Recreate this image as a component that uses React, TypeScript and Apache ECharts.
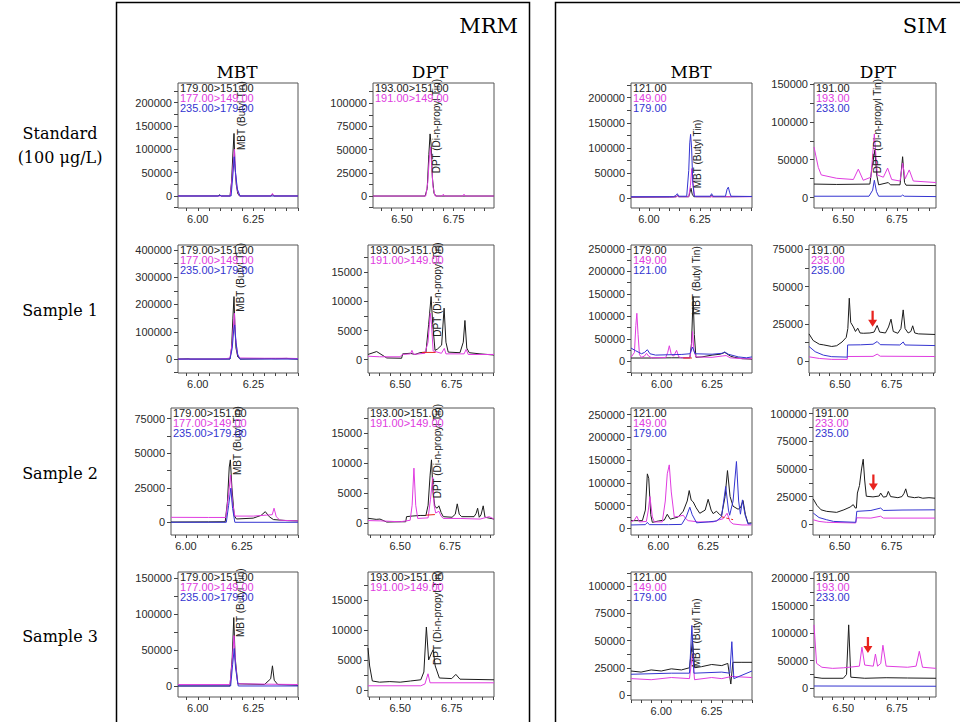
import React, { useEffect, useRef } from 'react';
import * as echarts from 'echarts';

type Pt = [number, number];

// ---------- colours ----------
const BLACK = '#1c1c1c';
const MAG = '#e03ce0';
const BLUE = '#3434d0';
const RED = '#e8231e';

// ---------- tick labels ----------
const MBT_X_LABELS = [6.0, 6.25];
const DPT_X_LABELS = [6.5, 6.75];
const Y_0_200K = [0, 50000, 100000, 150000, 200000];
const Y_0_100K_25 = [0, 25000, 50000, 75000, 100000];
const Y_0_150K = [0, 50000, 100000, 150000];
const Y_0_400K = [0, 100000, 200000, 300000, 400000];
const Y_0_15K = [0, 5000, 10000, 15000];
const Y_0_250K = [0, 50000, 100000, 150000, 200000, 250000];
const Y_0_75K = [0, 25000, 50000, 75000];

// ---------- legends ----------
const MRM_MBT_LEGEND = ['179.00>151.00', '177.00>149.00', '235.00>179.00'];
const MRM_DPT_LEGEND = ['193.00>151.00', '191.00>149.00'];
const SIM_MBT_LEGEND_A = ['121.00', '149.00', '179.00'];
const SIM_MBT_LEGEND_B = ['179.00', '149.00', '121.00'];
const SIM_DPT_LEGEND_A = ['191.00', '193.00', '233.00'];
const SIM_DPT_LEGEND_B = ['191.00', '233.00', '235.00'];

// ---------- Standard, MRM MBT ----------
const std_mrm_mbt_k: Pt[] = [[5.911,0],[6.09,0],[6.098,2500],[6.106,0],[6.145,0],[6.152,30000],[6.158,90000],[6.163,134000],[6.167,70000],[6.173,25000],[6.18,5000],[6.188,0],[6.33,0],[6.336,3000],[6.342,0],[6.451,0]];
const std_mrm_mbt_m: Pt[] = [[5.911,0],[6.146,0],[6.155,40000],[6.162,85000],[6.165,100000],[6.17,45000],[6.178,12000],[6.188,0],[6.328,0],[6.336,5500],[6.344,0],[6.451,0]];
const std_mrm_mbt_b: Pt[] = [[5.911,0],[6.095,0],[6.1,2000],[6.105,0],[6.15,0],[6.158,45000],[6.164,84000],[6.17,50000],[6.178,15000],[6.19,0],[6.451,0]];
// ---------- Standard, MRM DPT ----------
const std_mrm_dpt_k: Pt[] = [[6.36,0],[6.612,0],[6.622,8000],[6.63,45000],[6.636,67000],[6.641,55000],[6.647,20000],[6.655,3000],[6.665,0],[6.945,0]];
const std_mrm_dpt_m: Pt[] = [[6.36,0],[6.615,0],[6.625,15000],[6.632,40000],[6.638,53000],[6.643,35000],[6.65,10000],[6.66,0],[6.695,0],[6.7,2000],[6.706,0],[6.795,0],[6.8,2000],[6.806,0],[6.945,0]];
// ---------- Standard, SIM MBT ----------
const std_sim_mbt_k: Pt[] = [[5.912,2000],[6.1,2500],[6.135,3000],[6.14,5500],[6.146,3000],[6.195,3000],[6.201,12000],[6.206,20000],[6.212,8000],[6.22,3000],[6.302,3000],[6.307,5000],[6.312,3000],[6.4,3000],[6.505,3500]];
const std_sim_mbt_m: Pt[] = [[5.912,2500],[6.13,2500],[6.138,5000],[6.145,3000],[6.195,3000],[6.203,25000],[6.21,59000],[6.216,30000],[6.223,5000],[6.23,3000],[6.505,3000]];
const std_sim_mbt_b: Pt[] = [[5.912,3000],[6.12,3000],[6.132,5500],[6.139,9000],[6.146,4000],[6.185,4000],[6.195,55000],[6.2,110000],[6.204,127000],[6.209,100000],[6.215,30000],[6.222,4000],[6.3,4000],[6.307,9000],[6.314,4000],[6.375,4000],[6.383,18000],[6.389,22000],[6.395,12000],[6.402,4000],[6.505,3500]];
// ---------- Standard, SIM DPT ----------
const std_sim_dpt_k: Pt[] = [[6.363,18000],[6.469,17500],[6.624,18000],[6.634,40000],[6.648,63000],[6.656,30000],[6.665,17000],[6.71,20000],[6.72,17000],[6.765,17000],[6.777,54000],[6.786,20000],[6.793,16500],[6.933,16000]];
const std_sim_dpt_m: Pt[] = [[6.363,66700],[6.383,40000],[6.397,30000],[6.469,25600],[6.547,24000],[6.57,37600],[6.593,23000],[6.629,27000],[6.645,84000],[6.659,30000],[6.687,27000],[6.707,39000],[6.726,24000],[6.765,22000],[6.777,45500],[6.789,25000],[6.808,36600],[6.827,22000],[6.933,20000]];
const std_sim_dpt_b: Pt[] = [[6.363,2000],[6.62,2000],[6.637,10000],[6.645,23000],[6.655,8000],[6.665,2000],[6.77,2000],[6.777,3500],[6.785,2000],[6.933,1500]];

// ---------- Sample 1, MRM MBT ----------
const s1_mrm_mbt_k: Pt[] = [[5.911,0],[5.96,1000],[5.965,0],[6.1,0],[6.145,500],[6.152,40000],[6.158,150000],[6.163,229000],[6.167,120000],[6.172,40000],[6.18,8000],[6.19,0],[6.3,1500],[6.33,2000],[6.35,1500],[6.4,2500],[6.42,1000],[6.451,0]];
const s1_mrm_mbt_m: Pt[] = [[5.911,0],[6.1,0],[6.13,2000],[6.145,4000],[6.155,60000],[6.162,140000],[6.165,168000],[6.17,80000],[6.178,20000],[6.188,4000],[6.3,3000],[6.4,3000],[6.451,2000]];
const s1_mrm_mbt_b: Pt[] = [[5.911,0],[6.145,0],[6.155,40000],[6.162,110000],[6.166,125000],[6.172,60000],[6.18,15000],[6.19,0],[6.451,0]];
// ---------- Sample 1, MRM DPT ----------
const s1_mrm_dpt_k: Pt[] = [[6.344,900],[6.386,1400],[6.435,300],[6.507,250],[6.512,1000],[6.548,1100],[6.572,900],[6.596,1200],[6.625,1300],[6.638,6000],[6.65,10830],[6.658,6000],[6.669,1600],[6.68,1800],[6.701,2500],[6.713,8840],[6.722,3000],[6.733,1300],[6.79,1200],[6.806,3000],[6.814,6730],[6.823,2000],[6.835,1200],[6.887,1000],[6.955,800]];
const s1_mrm_dpt_m: Pt[] = [[6.344,600],[6.4,500],[6.5,500],[6.51,900],[6.55,1000],[6.557,1600],[6.565,900],[6.62,1100],[6.635,3000],[6.646,7980],[6.652,6000],[6.66,1500],[6.7,1100],[6.714,1940],[6.722,1000],[6.81,1000],[6.82,1770],[6.83,900],[6.955,900]];
const s1_mrm_dpt_red: Pt[] = [[6.605,1250],[6.672,1250]];
// ---------- Sample 1, SIM MBT ----------
const s1_sim_mbt_k: Pt[] = [[5.848,7500],[5.95,7500],[6.05,8000],[6.14,8000],[6.148,40000],[6.156,144000],[6.162,60000],[6.17,9000],[6.2,10000],[6.25,14000],[6.29,16000],[6.313,20000],[6.34,12000],[6.36,9000],[6.4,6000],[6.448,5000]];
const s1_sim_mbt_m: Pt[] = [[5.848,9000],[5.865,20000],[5.872,80000],[5.877,107000],[5.883,60000],[5.89,15000],[5.9,9000],[5.915,12000],[5.925,18000],[5.935,12000],[5.95,8000],[6.02,8500],[6.03,20000],[6.038,34800],[6.048,15000],[6.06,12000],[6.074,24500],[6.085,10000],[6.1,8000],[6.14,8500],[6.148,30000],[6.153,66500],[6.16,25000],[6.17,10000],[6.25,9000],[6.3,12000],[6.32,13000],[6.34,8000],[6.4,6000],[6.448,6000]];
const s1_sim_mbt_b: Pt[] = [[5.848,29700],[5.87,24000],[5.9,17000],[5.915,20000],[5.929,26000],[5.942,17000],[5.97,14000],[6.05,15000],[6.1,15500],[6.14,17000],[6.153,32000],[6.165,17000],[6.25,16000],[6.3,18000],[6.313,21000],[6.33,16000],[6.38,10000],[6.42,8000],[6.448,10000]];
const s1_sim_mbt_red: Pt[] = [[6.107,7500],[6.15,7500]];
// ---------- Sample 1, SIM DPT ----------
const s1_sim_dpt_k: Pt[] = [[6.35,18400],[6.37,14000],[6.4,11500],[6.419,11100],[6.46,10000],[6.484,10500],[6.51,13000],[6.53,16000],[6.538,22000],[6.545,42200],[6.552,26000],[6.565,23000],[6.575,20000],[6.586,22200],[6.597,19000],[6.613,18800],[6.645,19000],[6.665,19600],[6.68,24000],[6.692,19600],[6.72,19000],[6.735,23000],[6.747,28200],[6.758,20000],[6.78,18800],[6.795,22000],[6.806,34400],[6.815,22000],[6.83,19000],[6.843,20000],[6.852,23800],[6.862,19000],[6.88,18400],[6.96,18000]];
const s1_sim_dpt_m: Pt[] = [[6.35,3100],[6.4,2000],[6.46,1400],[6.535,1400],[6.537,3300],[6.66,3400],[6.68,4900],[6.695,3500],[6.96,3300]];
const s1_sim_dpt_b: Pt[] = [[6.35,10000],[6.38,6500],[6.42,4200],[6.46,3200],[6.535,2900],[6.537,11000],[6.6,11100],[6.66,11500],[6.68,13300],[6.695,11200],[6.79,11000],[6.806,13000],[6.815,11000],[6.96,10600]];

// ---------- Sample 2, MRM MBT ----------
const s2_mrm_mbt_k: Pt[] = [[5.933,200],[6.1,300],[6.175,400],[6.185,15000],[6.193,40000],[6.198,45200],[6.205,25000],[6.215,5000],[6.225,2400],[6.3,3000],[6.335,5000],[6.354,7700],[6.372,4000],[6.39,2000],[6.45,1200],[6.5,1000]];
const s2_mrm_mbt_m: Pt[] = [[5.933,3600],[6.1,3500],[6.178,3500],[6.19,20000],[6.199,34300],[6.207,15000],[6.218,4500],[6.3,4500],[6.36,5200],[6.385,5500],[6.393,10200],[6.403,4000],[6.42,1500],[6.5,1000]];
const s2_mrm_mbt_b: Pt[] = [[5.933,0],[6.18,0],[6.19,12000],[6.2,24700],[6.208,10000],[6.218,0],[6.5,0]];
// ---------- Sample 2, MRM DPT ----------
const s2_mrm_dpt_k: Pt[] = [[6.339,830],[6.38,650],[6.399,700],[6.433,200],[6.5,250],[6.528,250],[6.532,1100],[6.56,1200],[6.6,1300],[6.629,1300],[6.64,3000],[6.65,8000],[6.657,10550],[6.665,5000],[6.674,2800],[6.685,2500],[6.694,2900],[6.705,1800],[6.716,1100],[6.76,1000],[6.776,1500],[6.786,3230],[6.796,1500],[6.808,1100],[6.87,1100],[6.88,1600],[6.888,2500],[6.896,1000],[6.905,1400],[6.916,2900],[6.925,1000],[6.97,700]];
const s2_mrm_dpt_m: Pt[] = [[6.339,450],[6.4,400],[6.5,250],[6.55,500],[6.56,3000],[6.569,9170],[6.578,3000],[6.588,800],[6.64,900],[6.652,4000],[6.663,7620],[6.67,3000],[6.678,1700],[6.694,2000],[6.705,1200],[6.716,800],[6.8,800],[6.9,700],[6.946,1100],[6.97,700]];
const s2_mrm_dpt_red: Pt[] = [[6.629,1350],[6.674,1450]];
// ---------- Sample 2, SIM MBT ----------
const s2_sim_mbt_k: Pt[] = [[5.863,16800],[5.92,16800],[5.935,40000],[5.945,119800],[5.952,110000],[5.962,30000],[5.97,13000],[6.0,16000],[6.03,18000],[6.045,30800],[6.06,20000],[6.1,25000],[6.125,37500],[6.145,60000],[6.155,83000],[6.165,62000],[6.175,58000],[6.19,45000],[6.208,33000],[6.235,40000],[6.25,63800],[6.265,40000],[6.275,32300],[6.292,37500],[6.308,30000],[6.317,27900],[6.335,70000],[6.347,127000],[6.36,70000],[6.375,48500],[6.4,42000],[6.412,45000],[6.425,61000],[6.437,30000],[6.45,11000],[6.467,12000]];
const s2_sim_mbt_m: Pt[] = [[5.863,14000],[5.88,18000],[5.892,26500],[5.905,14000],[5.94,15000],[5.95,40000],[5.958,69800],[5.97,25000],[5.98,14000],[6.02,14000],[6.035,60000],[6.045,120000],[6.055,139600],[6.065,80000],[6.08,25000],[6.1,26000],[6.125,28700],[6.14,20000],[6.15,16800],[6.2,14000],[6.275,14000],[6.3,18000],[6.325,21000],[6.345,33100],[6.36,15000],[6.375,9500],[6.42,7300],[6.467,7300]];
const s2_sim_mbt_b: Pt[] = [[5.863,7300],[5.935,8000],[5.945,13000],[5.955,8000],[6.05,8000],[6.117,8500],[6.14,25000],[6.158,46300],[6.17,30000],[6.192,12000],[6.25,14000],[6.292,16000],[6.317,25000],[6.338,91800],[6.352,40000],[6.358,28700],[6.375,60000],[6.392,147000],[6.403,60000],[6.412,31000],[6.422,62500],[6.435,30000],[6.45,9500],[6.467,10000]];
const s2_sim_mbt_red: Pt[] = [[6.317,25500],[6.345,22000],[6.375,19000]];
// ---------- Sample 2, SIM DPT ----------
const s2_sim_dpt_k: Pt[] = [[6.372,22900],[6.39,17000],[6.41,13000],[6.437,11600],[6.485,10700],[6.52,13000],[6.55,15500],[6.565,17700],[6.575,14600],[6.58,14600],[6.585,28200],[6.595,35000],[6.605,50000],[6.613,58800],[6.62,40000],[6.628,25300],[6.66,24700],[6.69,25500],[6.697,28200],[6.71,24500],[6.725,25000],[6.734,29700],[6.745,25000],[6.78,24000],[6.8,25000],[6.81,28000],[6.818,32000],[6.828,25000],[6.86,24000],[6.88,24500],[6.9,23500],[6.93,24000],[6.959,23500]];
const s2_sim_dpt_m: Pt[] = [[6.372,4000],[6.4,2500],[6.437,1700],[6.577,1100],[6.582,5800],[6.65,5500],[6.697,7200],[6.71,5500],[6.959,5500]];
const s2_sim_dpt_b: Pt[] = [[6.372,10100],[6.4,6000],[6.437,4000],[6.47,2500],[6.577,1700],[6.582,11600],[6.65,12400],[6.697,14600],[6.71,12400],[6.8,12800],[6.959,13000]];

// ---------- Sample 3, MRM MBT ----------
const s3_mrm_mbt_k: Pt[] = [[5.911,0],[6.145,0],[6.155,40000],[6.162,95000],[6.168,40000],[6.18,3000],[6.3,2000],[6.328,10000],[6.336,28000],[6.344,8000],[6.36,2000],[6.451,1000]];
const s3_mrm_mbt_m: Pt[] = [[5.911,2000],[6.145,2000],[6.155,35000],[6.163,70000],[6.17,30000],[6.18,3000],[6.451,2000]];
const s3_mrm_mbt_b: Pt[] = [[5.911,0],[6.148,0],[6.157,30000],[6.164,52000],[6.17,25000],[6.182,0],[6.451,0]];
// ---------- Sample 3, MRM DPT ----------
const s3_mrm_dpt_k: Pt[] = [[6.344,7000],[6.352,4000],[6.365,1500],[6.4,1300],[6.45,1400],[6.5,1300],[6.55,1500],[6.6,1700],[6.615,3000],[6.627,10500],[6.638,5000],[6.65,6000],[6.66,6700],[6.67,4000],[6.69,2000],[6.75,1900],[6.77,2600],[6.79,1800],[6.955,1700]];
const s3_mrm_dpt_m: Pt[] = [[6.344,700],[6.6,700],[6.62,1000],[6.635,2700],[6.645,1200],[6.955,1200]];
// ---------- Sample 3, SIM MBT ----------
const s3_sim_mbt_k: Pt[] = [[5.85,22000],[5.9,21000],[5.95,23000],[6.0,22000],[6.05,24000],[6.1,23000],[6.14,25000],[6.155,50000],[6.165,25000],[6.2,26000],[6.25,28000],[6.3,27000],[6.33,29000],[6.345,10000],[6.355,30000],[6.4,30000],[6.45,30000]];
const s3_sim_mbt_m: Pt[] = [[5.85,15000],[5.95,14000],[6.05,16000],[6.14,15000],[6.155,38000],[6.165,14000],[6.25,16000],[6.3,15000],[6.35,17000],[6.45,16000]];
const s3_sim_mbt_b: Pt[] = [[5.85,19000],[6.05,20000],[6.14,20000],[6.152,64000],[6.162,20000],[6.3,21000],[6.34,20000],[6.35,49000],[6.36,15000],[6.45,22000]];
// ---------- Sample 3, SIM DPT ----------
const s3_sim_dpt_k: Pt[] = [[6.363,20000],[6.4,18000],[6.5,18000],[6.515,25000],[6.525,115000],[6.535,20000],[6.6,18000],[6.7,19000],[6.8,18500],[6.933,18000]];
const s3_sim_dpt_m: Pt[] = [[6.363,115000],[6.375,45000],[6.4,38000],[6.45,36000],[6.5,37000],[6.575,40000],[6.587,74500],[6.6,42000],[6.64,40000],[6.65,62000],[6.66,40000],[6.675,45000],[6.685,78000],[6.7,40000],[6.8,38000],[6.84,40000],[6.855,67000],[6.87,38000],[6.933,36000]];
const s3_sim_dpt_b: Pt[] = [[6.363,4000],[6.933,3500]];

// ---------- panel layout ----------
interface Trace { data: Pt[]; color: string; dashed?: boolean }
interface Panel {
  box: [number, number, number, number];
  x: [number, number];
  y: [number, number];
  xLabels: number[];
  yLabels: number[];
  legend: string[];
  traces: Trace[];
  annot?: { text: string; at: Pt };
  arrow?: Pt;
}

const MBT_NAME = 'MBT (Butyl Tin)';
const DPT_NAME = 'DPT (Di-n-propyl Tin)';

const PANELS: Panel[] = [
  // Standard
  { box: [178, 83, 120, 125], x: [5.911, 6.451], y: [-25700, 242000], xLabels: MBT_X_LABELS, yLabels: Y_0_200K, legend: MRM_MBT_LEGEND,
    traces: [{ data: std_mrm_mbt_k, color: BLACK }, { data: std_mrm_mbt_m, color: MAG }, { data: std_mrm_mbt_b, color: BLUE }],
    annot: { text: MBT_NAME, at: [6.1945, 98500] } },
  { box: [373, 83, 121, 125], x: [6.36, 6.945], y: [-12900, 121900], xLabels: DPT_X_LABELS, yLabels: Y_0_100K_25, legend: MRM_DPT_LEGEND,
    traces: [{ data: std_mrm_dpt_k, color: BLACK }, { data: std_mrm_dpt_m, color: MAG }],
    annot: { text: DPT_NAME, at: [6.668, 24500] } },
  { box: [631, 83, 121, 125], x: [5.912, 6.505], y: [-19400, 229000], xLabels: MBT_X_LABELS, yLabels: Y_0_200K, legend: SIM_MBT_LEGEND_A,
    traces: [{ data: std_sim_mbt_k, color: BLACK }, { data: std_sim_mbt_m, color: MAG }, { data: std_sim_mbt_b, color: BLUE }],
    annot: { text: MBT_NAME, at: [6.237, 19750] } },
  { box: [814, 83, 122, 125], x: [6.363, 6.933], y: [-13500, 151000], xLabels: DPT_X_LABELS, yLabels: Y_0_150K, legend: SIM_DPT_LEGEND_A,
    traces: [{ data: std_sim_dpt_k, color: BLACK }, { data: std_sim_dpt_m, color: MAG }, { data: std_sim_dpt_b, color: BLUE }],
    annot: { text: DPT_NAME, at: [6.661, 32200] } },
  // Sample 1
  { box: [178, 245, 120, 128], x: [5.911, 6.451], y: [-51000, 418000], xLabels: MBT_X_LABELS, yLabels: Y_0_400K, legend: MRM_MBT_LEGEND,
    traces: [{ data: s1_mrm_mbt_k, color: BLACK }, { data: s1_mrm_mbt_m, color: MAG }, { data: s1_mrm_mbt_b, color: BLUE }],
    annot: { text: MBT_NAME, at: [6.191, 173600] } },
  { box: [368, 245, 126, 128], x: [6.344, 6.955], y: [-2280, 19670], xLabels: DPT_X_LABELS, yLabels: Y_0_15K, legend: MRM_DPT_LEGEND,
    traces: [{ data: s1_mrm_dpt_k, color: BLACK }, { data: s1_mrm_dpt_m, color: MAG }, { data: s1_mrm_dpt_red, color: RED }],
    annot: { text: DPT_NAME, at: [6.68, 3945] } },
  { box: [631, 245, 121, 128], x: [5.848, 6.448], y: [-25800, 258900], xLabels: MBT_X_LABELS, yLabels: Y_0_250K, legend: SIM_MBT_LEGEND_B,
    traces: [{ data: s1_sim_mbt_k, color: BLACK }, { data: s1_sim_mbt_m, color: MAG }, { data: s1_sim_mbt_b, color: BLUE }, { data: s1_sim_mbt_red, color: RED }],
    annot: { text: MBT_NAME, at: [6.174, 103200] } },
  { box: [809, 245, 126, 128], x: [6.35, 6.96], y: [-7700, 77700], xLabels: DPT_X_LABELS, yLabels: Y_0_75K, legend: SIM_DPT_LEGEND_B,
    traces: [{ data: s1_sim_dpt_k, color: BLACK }, { data: s1_sim_dpt_m, color: MAG }, { data: s1_sim_dpt_b, color: BLUE }],
    arrow: [6.658, 28460] },
  // Sample 2
  { box: [171, 408, 127, 127], x: [5.933, 6.5], y: [-9200, 82770], xLabels: MBT_X_LABELS, yLabels: Y_0_75K, legend: MRM_MBT_LEGEND,
    traces: [{ data: s2_mrm_mbt_k, color: BLACK }, { data: s2_mrm_mbt_m, color: MAG }, { data: s2_mrm_mbt_b, color: BLUE }],
    annot: { text: MBT_NAME, at: [6.231, 34250] } },
  { box: [368, 408, 126, 127], x: [6.339, 6.97], y: [-1950, 19170], xLabels: DPT_X_LABELS, yLabels: Y_0_15K, legend: MRM_DPT_LEGEND,
    traces: [{ data: s2_mrm_dpt_k, color: BLACK }, { data: s2_mrm_dpt_m, color: MAG }, { data: s2_mrm_dpt_red, color: RED }],
    annot: { text: DPT_NAME, at: [6.686, 4150] } },
  { box: [631, 408, 121, 127], x: [5.863, 6.47], y: [-14800, 264800], xLabels: MBT_X_LABELS, yLabels: Y_0_250K, legend: SIM_MBT_LEGEND_A,
    traces: [{ data: s2_sim_mbt_k, color: BLACK }, { data: s2_sim_mbt_m, color: MAG }, { data: s2_sim_mbt_b, color: BLUE }, { data: s2_sim_mbt_red, color: RED, dashed: true }] },
  { box: [813, 408, 122, 127], x: [6.371, 6.959], y: [-9800, 105200], xLabels: DPT_X_LABELS, yLabels: Y_0_100K_25, legend: SIM_DPT_LEGEND_B,
    traces: [{ data: s2_sim_dpt_k, color: BLACK }, { data: s2_sim_dpt_m, color: MAG }, { data: s2_sim_dpt_b, color: BLUE }],
    arrow: [6.662, 37740] },
  // Sample 3
  { box: [178, 572, 120, 125], x: [5.911, 6.451], y: [-15300, 158300], xLabels: MBT_X_LABELS, yLabels: Y_0_150K, legend: MRM_MBT_LEGEND,
    traces: [{ data: s3_mrm_mbt_k, color: BLACK }, { data: s3_mrm_mbt_m, color: MAG }, { data: s3_mrm_mbt_b, color: BLUE }],
    annot: { text: MBT_NAME, at: [6.19, 68000] } },
  { box: [368, 572, 126, 125], x: [6.344, 6.955], y: [-1170, 19670], xLabels: DPT_X_LABELS, yLabels: Y_0_15K, legend: MRM_DPT_LEGEND,
    traces: [{ data: s3_mrm_dpt_k, color: BLACK }, { data: s3_mrm_dpt_m, color: MAG }],
    annot: { text: DPT_NAME, at: [6.68, 4165] } },
  { box: [631, 572, 121, 128], x: [5.85, 6.45], y: [-4700, 113200], xLabels: MBT_X_LABELS, yLabels: Y_0_100K_25, legend: SIM_MBT_LEGEND_A,
    traces: [{ data: s3_sim_mbt_k, color: BLACK }, { data: s3_sim_mbt_m, color: MAG }, { data: s3_sim_mbt_b, color: BLUE }],
    annot: { text: MBT_NAME, at: [6.177, 25500] } },
  { box: [814, 572, 122, 125], x: [6.363, 6.933], y: [-16000, 211000], xLabels: DPT_X_LABELS, yLabels: Y_0_200K, legend: SIM_DPT_LEGEND_A,
    traces: [{ data: s3_sim_dpt_k, color: BLACK }, { data: s3_sim_dpt_m, color: MAG }, { data: s3_sim_dpt_b, color: BLUE }],
    arrow: [6.615, 78400] },
];

const ROW_LABELS: { lines: string[]; y: number }[] = [
  { lines: ['Standard', '(100 μg/L)'], y: 145 },
  { lines: ['Sample 1'], y: 310 },
  { lines: ['Sample 2'], y: 473 },
  { lines: ['Sample 3'], y: 636 },
];
const COL_HEADERS: { text: string; x: number }[] = [
  { text: 'MBT', x: 237 },
  { text: 'DPT', x: 430 },
  { text: 'MBT', x: 691 },
  { text: 'DPT', x: 878 },
];

const ARROW_PATH = 'path://M3,0L5,0L5,9L8,9L4,16L0,9L3,9Z';
const SANS = '"Liberation Sans", Arial, sans-serif';
const SERIF = '"DejaVu Serif", serif';

function ticksBetween(min: number, max: number, step: number): number[] {
  const out: number[] = [];
  let k = Math.ceil(min / step - 1e-9);
  while (k * step <= max + 1e-9) {
    out.push(+(k * step).toFixed(6));
    k++;
  }
  return out;
}

function buildOption() {
  const grid: any[] = [];
  const xAxis: any[] = [];
  const yAxis: any[] = [];
  const series: any[] = [];
  const graphic: any[] = [];

  PANELS.forEach((p, i) => {
    const [l, t, w, h] = p.box;
    grid.push({ left: l, top: t, width: w, height: h, show: true, borderColor: '#555', borderWidth: 1, backgroundColor: '#fff', containLabel: false });
    const yStep = p.yLabels[1] - p.yLabels[0];
    xAxis.push({
      type: 'value', gridIndex: i, min: p.x[0], max: p.x[1], position: 'bottom',
      axisLine: { show: false, onZero: false },
      axisTick: { show: true, inside: false, length: 3, customValues: ticksBetween(p.x[0], p.x[1], 0.05), lineStyle: { color: '#444', width: 1 } },
      axisLabel: { show: true, customValues: p.xLabels, formatter: (v: number) => v.toFixed(2), fontSize: 11, color: '#2a2a2a', margin: 5, fontFamily: SANS },
      splitLine: { show: false },
    });
    yAxis.push({
      type: 'value', gridIndex: i, min: p.y[0], max: p.y[1], position: 'left',
      axisLine: { show: false, onZero: false },
      axisTick: { show: true, inside: false, length: 4, customValues: ticksBetween(p.y[0], p.y[1], yStep / 2), lineStyle: { color: '#444', width: 1 } },
      axisLabel: { show: true, customValues: p.yLabels, formatter: (v: number) => String(Math.round(v)), fontSize: 11, color: '#2a2a2a', margin: 6, fontFamily: SANS },
      splitLine: { show: false },
    });

    p.traces.forEach((tr, k) => {
      const s: any = {
        type: 'line', xAxisIndex: i, yAxisIndex: i, data: tr.data,
        symbol: 'none', showSymbol: false, silent: true, clip: true,
        lineStyle: { color: tr.color, width: 1, type: tr.dashed ? [3, 2] : 'solid' },
        itemStyle: { color: tr.color },
        z: 3 + k,
      };
      if (k === 0 && p.annot) {
        s.markPoint = {
          silent: true, symbol: 'circle', symbolSize: 0, itemStyle: { color: 'rgba(0,0,0,0)' },
          label: { show: true, formatter: p.annot.text, rotate: 90, position: [0, 0], align: 'left', verticalAlign: 'middle', fontSize: 10, color: '#222', fontFamily: SANS },
          data: [{ coord: p.annot.at, name: p.annot.text }],
        };
      }
      if (k === p.traces.length - 1 && p.arrow) {
        s.markPoint = {
          silent: true, symbol: ARROW_PATH, symbolSize: [9, 16], symbolKeepAspect: false,
          itemStyle: { color: RED }, label: { show: false },
          data: [{ coord: p.arrow }],
        };
      }
      series.push(s);
    });

    p.legend.forEach((txt, k) => {
      graphic.push({
        type: 'text', silent: true, z: 50,
        x: l + 2, y: t + 5 + k * 9.8,
        style: { text: txt, fill: p.traces[k].color, font: `11px ${SANS}`, textAlign: 'left', textVerticalAlign: 'middle' },
      });
    });
  });

  // frames
  graphic.push({ type: 'rect', silent: true, z: 1, shape: { x: 116.5, y: 2.5, width: 413, height: 760 }, style: { fill: 'none', stroke: '#000', lineWidth: 1.5 } });
  graphic.push({ type: 'rect', silent: true, z: 1, shape: { x: 555.5, y: 2.5, width: 420, height: 760 }, style: { fill: 'none', stroke: '#000', lineWidth: 1.5 } });
  graphic.push({ type: 'text', silent: true, x: 518, y: 26, style: { text: 'MRM', fill: '#000', font: `21px ${SERIF}`, textAlign: 'right', textVerticalAlign: 'middle' } });
  graphic.push({ type: 'text', silent: true, x: 947, y: 26, style: { text: 'SIM', fill: '#000', font: `21px ${SERIF}`, textAlign: 'right', textVerticalAlign: 'middle' } });
  COL_HEADERS.forEach((c) => {
    graphic.push({ type: 'text', silent: true, x: c.x, y: 72, style: { text: c.text, fill: '#000', font: `17px ${SERIF}`, textAlign: 'center', textVerticalAlign: 'middle' } });
  });
  ROW_LABELS.forEach((r) => {
    const n = r.lines.length;
    r.lines.forEach((line, k) => {
      graphic.push({ type: 'text', silent: true, x: 60, y: r.y + (k - (n - 1) / 2) * 24, style: { text: line, fill: '#000', font: `16px ${SERIF}`, textAlign: 'center', textVerticalAlign: 'middle' } });
    });
  });

  return { animation: false, backgroundColor: '#fff', grid, xAxis, yAxis, series, graphic };
}

export default function App() {
  const ref = useRef<HTMLDivElement>(null);
  useEffect(() => {
    if (!ref.current) return;
    const chart = echarts.init(ref.current, undefined, { renderer: 'svg' });
    chart.setOption(buildOption());
    return () => chart.dispose();
  }, []);
  return <div ref={ref} style={{ position: 'fixed', left: 0, top: 0, width: 960, height: 722, background: '#fff' }} />;
}
